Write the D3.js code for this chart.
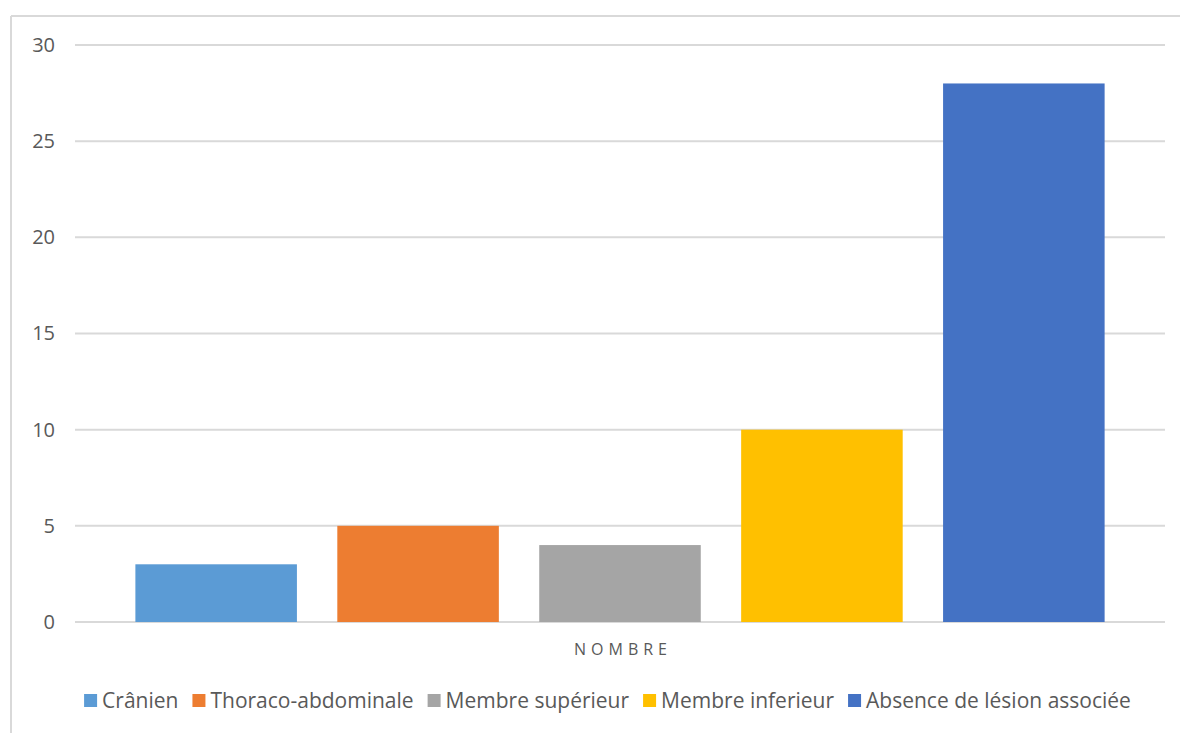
<!DOCTYPE html>
<html>
<head>
<meta charset="utf-8">
<script src="https://cdn.jsdelivr.net/npm/d3@7"></script>
<style>
  html, body { margin: 0; padding: 0; background: #fff; }
  svg { display: block; font-family: "Open Sans", Lato, sans-serif; }
</style>
</head>
<body>
<svg id="chart" width="1180" height="733"></svg>
<script>
// Associated injuries, single group "NOMBRE"
const categories = ["Crânien", "Thoraco-abdominale", "Membre supérieur", "Membre inferieur", "Absence de lésion associée"];
const values = [3, 5, 4, 10, 28];
const colors = ["#5b9bd5", "#ed7d31", "#a5a5a5", "#ffc000", "#4472c4"];
const yTicks = [0, 5, 10, 15, 20, 25, 30];
const groupLabel = "NOMBRE";

const svg = d3.select("#chart");
const W = 1180, H = 733;

// outer frame (top and left edges visible)
svg.append("line").attr("x1", 11).attr("x2", W).attr("y1", 16).attr("y2", 16)
  .attr("stroke", "#d9d9d9").attr("stroke-width", 2);
svg.append("line").attr("x1", 11).attr("x2", 11).attr("y1", 16).attr("y2", H)
  .attr("stroke", "#d9d9d9").attr("stroke-width", 2);

const plot = { left: 75, right: 1165, top: 45, bottom: 622 };

const y = d3.scaleLinear().domain([0, 30]).range([plot.bottom, plot.top]);
const x = d3.scaleBand().domain(categories)
  .range([plot.left + 20, plot.right - 20])
  .paddingInner(0.2).paddingOuter(0.2);

// gridlines
svg.append("g").selectAll("line").data(yTicks).join("line")
  .attr("x1", plot.left).attr("x2", plot.right)
  .attr("y1", d => y(d)).attr("y2", d => y(d))
  .attr("stroke", "#d9d9d9").attr("stroke-width", 2);

// y axis labels
const yAxis = d3.axisLeft(y).tickValues(yTicks).tickSize(0).tickPadding(0);
const gy = svg.append("g").attr("transform", `translate(55,0)`).call(yAxis);
gy.select(".domain").remove();
gy.selectAll("text").attr("fill", "#595959").style("font-size", "20px")
  .style("font-family", "'Open Sans', Lato, sans-serif");

// bars
svg.append("g").selectAll("rect").data(categories).join("rect")
  .attr("x", d => x(d))
  .attr("width", x.bandwidth())
  .attr("y", (d, i) => y(values[i]))
  .attr("height", (d, i) => y(0) - y(values[i]))
  .attr("fill", (d, i) => colors[i]);

// category label
svg.append("text").attr("x", (plot.left + plot.right) / 2 + 3).attr("y", 655)
  .attr("text-anchor", "middle").attr("fill", "#595959")
  .style("font-size", "16px").style("letter-spacing", "5px")
  .text(groupLabel);

// legend
const legend = svg.append("g");
const items = legend.selectAll("g").data(categories).join("g");
items.append("rect").attr("width", 13).attr("height", 13).attr("y", -14)
  .attr("fill", (d, i) => colors[i]);
items.append("text").attr("x", 18).attr("y", 0).attr("fill", "#595959")
  .style("font-size", "21px").text(d => d);
let cx = 0;
const gap = 14;
items.each(function () {
  const t = d3.select(this).select("text").node().getComputedTextLength();
  d3.select(this).attr("transform", `translate(${cx},0)`);
  cx += 18 + t + gap;
});
const total = cx - gap;
legend.attr("transform", `translate(${(85 + 1130) / 2 - total / 2},708)`);
</script>
</body>
</html>
